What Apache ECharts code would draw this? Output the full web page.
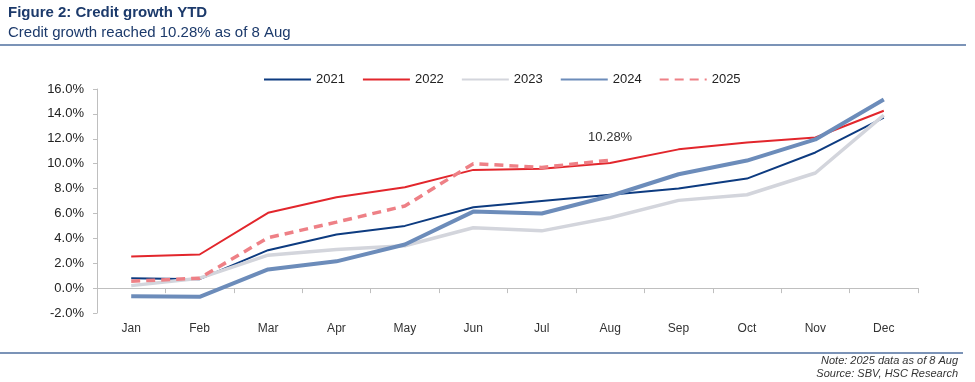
<!DOCTYPE html>
<html>
<head>
<meta charset="utf-8">
<script src="https://cdn.jsdelivr.net/npm/echarts@6/dist/echarts.min.js"></script>
<style>html,body{margin:0;padding:0;background:#fff}#c{width:975px;height:382px}</style>
</head>
<body>
<div id="c"></div>
<script>
const months = ['Jan','Feb','Mar','Apr','May','Jun','Jul','Aug','Sep','Oct','Nov','Dec'];
const y2021 = [0.8, 0.72, 3.05, 4.3, 5.0, 6.5, 7.0, 7.5, 8.0, 8.8, 10.9, 13.7];
const y2022 = [2.55, 2.7, 6.05, 7.3, 8.1, 9.5, 9.6, 10.05, 11.15, 11.7, 12.1, 14.25];
const y2023 = [0.2, 0.8, 2.65, 3.1, 3.4, 4.85, 4.6, 5.65, 7.05, 7.5, 9.25, 13.9];
const y2024 = [-0.65, -0.7, 1.5, 2.15, 3.5, 6.15, 6.0, 7.4, 9.15, 10.25, 11.95, 15.15];
const y2025 = [0.55, 0.8, 4.05, 5.3, 6.6, 10.0, 9.7, 10.28];
const yTicks = {min: -2, max: 16, interval: 2};

const font = 'Liberation Sans, Arial, sans-serif';
const chart = echarts.init(document.getElementById('c'));

function lineSeries(name, data, color, width, dashed) {
  return {
    name, type: 'line', data, xAxisIndex: 0,
    symbol: 'none', smooth: false,
    lineStyle: {color, width, type: dashed ? [9, 6] : 'solid'},
    itemStyle: {color},
    z: 2
  };
}

const lastIdx = y2025.length - 1;
const s2025 = lineSeries('2025', y2025, '#ee8086', 3.5, true);
s2025.markPoint = {
  symbol: 'circle', symbolSize: 1,
  itemStyle: {color: 'rgba(0,0,0,0)'},
  label: {show: true, position: 'top', distance: 16, formatter: y2025[lastIdx].toFixed(2) + '%', color: '#333', fontSize: 13, fontFamily: font},
  data: [{coord: [months[lastIdx], y2025[lastIdx]]}]
};

chart.setOption({
  animation: false,
  textStyle: {fontFamily: font},
  title: [
    {text: 'Figure 2: Credit growth YTD', left: 3, top: 0, textStyle: {fontSize: 15, fontWeight: 'bold', color: '#1c3a6b', fontFamily: font}},
    {text: 'Credit growth reached 10.28% as of 8 Aug', left: 3, top: 20, textStyle: {fontSize: 15, fontWeight: 'normal', color: '#1c3a6b', fontFamily: font}}
  ],
  graphic: [
    {type: 'line', shape: {x1: 0, y1: 45, x2: 966, y2: 45}, style: {stroke: '#4f6f9f', lineWidth: 1.5}},
    {type: 'line', shape: {x1: 0, y1: 353, x2: 963, y2: 353}, style: {stroke: '#4f6f9f', lineWidth: 1.5}},
    {type: 'text', right: 17, top: 355, style: {text: 'Note: 2025 data as of 8 Aug', fill: '#333', font: 'italic 11px Liberation Sans, Arial, sans-serif'}},
    {type: 'text', right: 17, top: 368, style: {text: 'Source: SBV, HSC Research', fill: '#333', font: 'italic 11px Liberation Sans, Arial, sans-serif'}}
  ],
  legend: {
    top: 68, left: 258,
    itemWidth: 47, itemHeight: 12, itemGap: 17,
    itemStyle: {opacity: 0},
    textStyle: {fontSize: 13, color: '#222', fontFamily: font},
    data: ['2021', '2022', '2023', '2024', '2025']
  },
  grid: {left: 97, right: 57, top: 89, height: 224, containLabel: false},
  xAxis: [
    {type: 'category', data: months, boundaryGap: true,
     axisLine: {onZero: true, lineStyle: {color: '#bfbfbf', width: 1}},
     axisTick: {show: true, length: 5, lineStyle: {color: '#bfbfbf'}, interval: 0},
     axisLabel: {show: false}, splitLine: {show: false}},
    {type: 'category', data: months, boundaryGap: true, position: 'bottom',
     axisLine: {show: false, onZero: false}, axisTick: {show: false},
     axisLabel: {show: true, margin: 10, fontSize: 12, color: '#333', fontFamily: font, interval: 0},
     splitLine: {show: false}}
  ],
  yAxis: {
    type: 'value', min: yTicks.min, max: yTicks.max, interval: yTicks.interval,
    axisLine: {show: true, lineStyle: {color: '#bfbfbf'}},
    axisTick: {show: true, length: 4, lineStyle: {color: '#bfbfbf'}},
    splitLine: {show: false},
    axisLabel: {formatter: v => v.toFixed(1) + '%', fontSize: 13, color: '#222', margin: 13, fontFamily: font}
  },
  series: [
    lineSeries('2021', y2021, '#0d3b80', 2, false),
    lineSeries('2022', y2022, '#e2262c', 2, false),
    lineSeries('2023', y2023, '#d3d5dc', 3.5, false),
    lineSeries('2024', y2024, '#6c8cba', 4, false),
    s2025
  ]
});
</script>
</body>
</html>
